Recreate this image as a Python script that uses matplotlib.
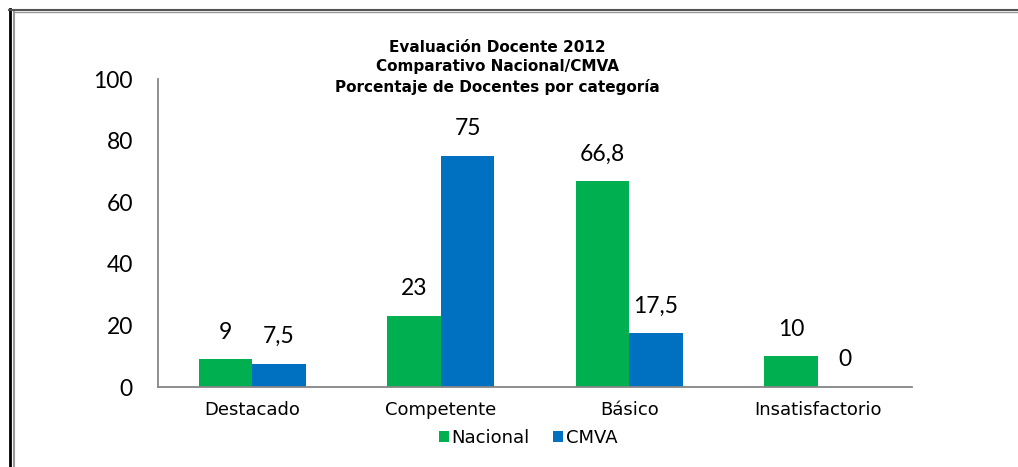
import numpy as np
import matplotlib.pyplot as plt
from matplotlib.lines import Line2D

# ==========================================
# DATA
# ==========================================
categories = ["Destacado", "Competente", "Básico", "Insatisfactorio"]
nacional = [9, 23, 66.8, 10]
cmva = [7.5, 75, 17.5, 0]
series_names = ["Nacional", "CMVA"]
title_lines = ["Evaluación Docente 2012",
               "Comparativo Nacional/CMVA",
               "Porcentaje de Docentes por categoría"]

green = "#00B050"
blue = "#0070C0"
axis_gray = "#868686"


def fmt(v):
    # comma as decimal separator, as in the original
    s = f"{v:g}"
    return s.replace(".", ",")


fig = plt.figure(figsize=(10.18, 4.67), dpi=100)
ax = fig.add_axes([158 / 1018, 1 - 387 / 467, 754 / 1018, 308 / 467])

x = np.arange(len(categories))
w = 0.284
b1 = ax.bar(x - w / 2, nacional, w, color=green, label=series_names[0])
b2 = ax.bar(x + w / 2, cmva, w, color=blue, label=series_names[1])

for bars, vals in [(b1, nacional), (b2, cmva)]:
    for rect, v in zip(bars, vals):
        ax.annotate(fmt(v), (rect.get_x() + rect.get_width() / 2, rect.get_height()),
                    xytext=(0, 12), textcoords="offset points",
                    ha="center", va="bottom", fontsize=16.5, family="Lato", color="black")

ax.set_xlim(-0.5, 3.5)
ax.set_ylim(0, 100)
ax.set_yticks([0, 20, 40, 60, 80, 100])
ax.set_xticks(x)
ax.set_xticklabels(categories, fontsize=13, family="DejaVu Sans")
for lab in ax.get_yticklabels():
    lab.set_fontsize(16.5)
    lab.set_family("Lato")
ax.tick_params(axis="y", length=0, pad=18)
ax.tick_params(axis="x", length=0, pad=10)

for side in ["top", "right"]:
    ax.spines[side].set_visible(False)
for side in ["left", "bottom"]:
    ax.spines[side].set_color(axis_gray)
    ax.spines[side].set_linewidth(1.3)

# title as figure text
for i, line in enumerate(title_lines):
    fig.text(497 / 1018, 1 - (47 + i * 20) / 467, line, ha="center", va="center",
             fontsize=11, fontweight="bold", family="DejaVu Sans")

fig.legend(handles=[b1, b2], labels=series_names, loc="center",
           bbox_to_anchor=(528 / 1018, 1 - 438 / 467), ncol=2, frameon=False,
           fontsize=13, handlelength=0.55, handleheight=0.55, handletextpad=0.15,
           columnspacing=1.3)

# frame lines around the picture
fig.add_artist(Line2D([9.5 / 1018, 9.5 / 1018], [0, 1 - 9 / 467], transform=fig.transFigure,
                      color="black", lw=2))
fig.add_artist(Line2D([14 / 1018, 14 / 1018], [0, 1 - 11 / 467], transform=fig.transFigure,
                      color="#999999", lw=1.5))
fig.add_artist(Line2D([9 / 1018, 1], [1 - 9.5 / 467, 1 - 9.5 / 467], transform=fig.transFigure,
                      color="#555555", lw=1.5))
fig.add_artist(Line2D([14 / 1018, 1], [1 - 11.5 / 467, 1 - 11.5 / 467], transform=fig.transFigure,
                      color="#999999", lw=1))

fig.savefig("out.png", dpi=100)
